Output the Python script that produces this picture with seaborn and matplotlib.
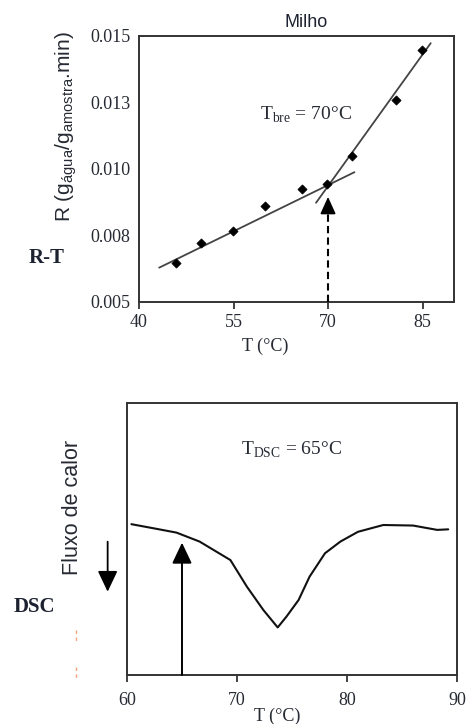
import matplotlib
matplotlib.use('Agg')
import matplotlib.pyplot as plt
from matplotlib.lines import Line2D
import seaborn as sns
import pandas as pd

# ---------------- data: R-T plot ----------------
rt_temp = [45.9, 49.9, 54.9, 60.0, 65.9, 69.9, 73.8, 80.8, 84.9]
rt_rate = [0.00645, 0.00721, 0.00767, 0.00862, 0.00925, 0.00945, 0.0105, 0.01259, 0.01447]
fit_low_temp = [43.2, 74.2]
fit_low_rate = [0.00629, 0.00988]
fit_high_temp = [68.1, 86.3]
fit_high_rate = [0.00873, 0.01473]
rt_xticks = [40, 55, 70, 85]
rt_yticks = [0.005, 0.0075, 0.010, 0.0125, 0.015]
rt_yticklabels = ['0.005', '0.008', '0.010', '0.013', '0.015']
t_bre = 70
t_bre_arrow_tip = 0.00895
t_bre_head_base = 0.0085

# ---------------- data: DSC plot ----------------
dsc_temp = [60.4, 62.4, 64.5, 66.6, 69.4, 70.9, 72.4, 73.7, 74.5, 75.6,
            76.6, 78.0, 79.4, 81.0, 83.3, 86.0, 88.2, 89.2]
dsc_flow = [0.555, 0.540, 0.524, 0.491, 0.423, 0.325, 0.239, 0.175, 0.215, 0.276,
            0.362, 0.448, 0.491, 0.527, 0.552, 0.550, 0.534, 0.536]
dsc_xticks = [60, 70, 80, 90]
t_dsc = 65
t_dsc_arrow_tip = 0.487

rt_df = pd.DataFrame({'T': rt_temp, 'R': rt_rate})
low_df = pd.DataFrame({'T': fit_low_temp, 'R': fit_low_rate})
high_df = pd.DataFrame({'T': fit_high_temp, 'R': fit_high_rate})
dsc_df = pd.DataFrame({'T': dsc_temp, 'F': dsc_flow})
shaft_df = pd.DataFrame({'T': [t_bre, t_bre], 'R': [0.005, t_bre_head_base]})

sns.set_theme(style='ticks')
plt.rcParams['font.family'] = ['Liberation Serif', 'DejaVu Serif']
plt.rcParams['mathtext.fontset'] = 'custom'
plt.rcParams['mathtext.rm'] = 'Liberation Serif'

SERIF = ['Liberation Serif', 'DejaVu Serif']
SANS = ['Liberation Sans', 'DejaVu Sans']
TXT = '#262a33'
SPINE = '#333333'

fig = plt.figure(figsize=(4.66, 7.24), dpi=100)
fig.patch.set_facecolor('white')

# ================= top: R-T =================
ax1 = fig.add_axes([0.2983, 0.5829, 0.6760, 0.3674])
sns.lineplot(data=low_df, x='T', y='R', color='#444444', lw=1.3, ax=ax1)
sns.lineplot(data=high_df, x='T', y='R', color='#444444', lw=1.3, ax=ax1)
ax1.plot(shaft_df['T'], shaft_df['R'], color='black', lw=1.5,
         dashes=(3.5, 2), zorder=4)
sns.scatterplot(data=rt_df, x='T', y='R', marker='D', s=22, color='black',
                edgecolor='black', linewidth=0.5, zorder=5, ax=ax1)
ax1.annotate('', xy=(t_bre, t_bre_arrow_tip), xytext=(t_bre, t_bre_head_base),
             arrowprops=dict(arrowstyle='-|>,head_length=0.75,head_width=0.34',
                             mutation_scale=14, color='black', lw=1.2,
                             shrinkA=0, shrinkB=0))
ax1.set_xlim(40, 90)
ax1.set_ylim(0.005, 0.015)
ax1.set_xticks(rt_xticks)
ax1.set_xticklabels([str(v) for v in rt_xticks])
ax1.set_yticks(rt_yticks)
ax1.set_yticklabels(rt_yticklabels)
ax1.tick_params(axis='x', direction='out', length=5, width=1.3, pad=3.5,
                labelsize=13, colors=SPINE, labelcolor=TXT)
ax1.tick_params(axis='y', length=0, pad=6, labelsize=13, labelcolor=TXT)
for lab in ax1.get_xticklabels() + ax1.get_yticklabels():
    lab.set_family(SERIF)
for sp in ax1.spines.values():
    sp.set_visible(True)
    sp.set_linewidth(1.4)
    sp.set_color(SPINE)
ax1.set_xlabel('T (°C)', fontsize=13, family=SERIF, color=TXT)
ax1.xaxis.set_label_coords(0.40, -0.135)
ax1.set_ylabel('R (g$_\\mathregular{água}$/g$_\\mathregular{amostra}$.min)',
               fontsize=15, family=SANS, color=TXT)
ax1.yaxis.set_label_coords(-0.192, 0.658)
ax1.text(66.5, 0.01203, 'T$_\\mathregular{bre}$ = 70°C', ha='center', va='center',
         fontsize=14, family=SERIF, color=TXT)

fig.text(0.657, 0.9696, 'Milho', ha='center', va='center', fontsize=13,
         family=SANS, color='#1c2230')
fig.text(0.101, 0.6436, 'R-T', ha='center', va='center', fontsize=15,
         family=SERIF, weight='bold', color='#1c2230')

# ================= bottom: DSC =================
ax2 = fig.add_axes([0.2725, 0.0677, 0.7082, 0.3753])
sns.lineplot(data=dsc_df, x='T', y='F', color='#111111', lw=1.5, ax=ax2)
ax2.annotate('', xy=(t_dsc, t_dsc_arrow_tip), xytext=(t_dsc, 0.0),
             arrowprops=dict(arrowstyle='-|>,head_length=0.8,head_width=0.38',
                             mutation_scale=16, color='black', lw=1.4,
                             shrinkA=0, shrinkB=0))
ax2.set_xlim(60, 90)
ax2.set_ylim(0, 1)
ax2.set_xticks(dsc_xticks)
ax2.set_xticklabels([str(v) for v in dsc_xticks])
ax2.set_yticks([])
ax2.tick_params(axis='x', direction='out', length=5, width=1.3, pad=7,
                labelsize=13, colors=SPINE, labelcolor=TXT)
for lab in ax2.get_xticklabels():
    lab.set_family(SERIF)
for sp in ax2.spines.values():
    sp.set_visible(True)
    sp.set_linewidth(1.4)
    sp.set_color(SPINE)
ax2.set_xlabel('T (°C)', fontsize=13, family=SERIF, color=TXT)
ax2.xaxis.set_label_coords(0.4545, -0.121)
ax2.set_ylabel('Fluxo de calor', fontsize=15.5, family=SANS, color=TXT)
ax2.yaxis.set_label_coords(-0.133, 0.618)
ax2.text(75.0, 0.828, 'T$_\\mathregular{DSC}$ = 65°C', ha='center', va='center',
         fontsize=14, family=SERIF, color=TXT)

# down arrow beside the heat-flow label
ax2.annotate('', xy=(0.231, 0.1827), xytext=(0.231, 0.2518),
             xycoords='figure fraction', textcoords='figure fraction',
             arrowprops=dict(arrowstyle='-|>,head_length=0.8,head_width=0.38',
                             mutation_scale=16, color='black', lw=1.3,
                             shrinkA=0, shrinkB=0), annotation_clip=False)

fig.text(0.073, 0.1616, 'DSC', ha='center', va='center', fontsize=15,
         family=SERIF, weight='bold', color='#1c2230')

# faint orange marks at the left
for y0, y1 in [(0.1298, 0.1119), (0.0787, 0.0608)]:
    fig.add_artist(Line2D([0.164, 0.164], [y0, y1], transform=fig.transFigure,
                          color='#f2a57a', lw=1.0, linestyle=(0, (2.5, 2.5))))

fig.savefig('out.png', dpi=100, facecolor='white')
